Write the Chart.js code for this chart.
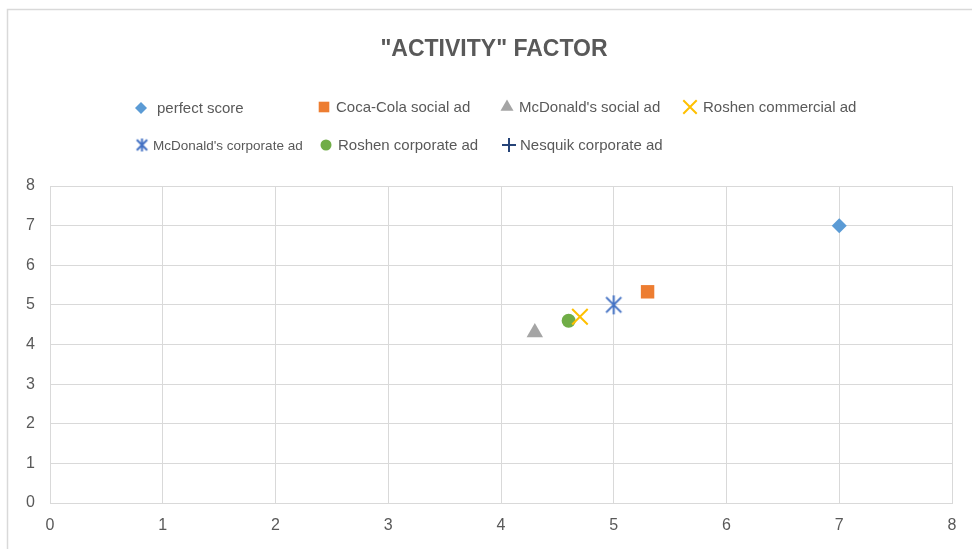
<!DOCTYPE html>
<html>
<head>
<meta charset="utf-8">
<script src="https://cdn.jsdelivr.net/npm/chart.js@4/dist/chart.umd.min.js"></script>
<style>
  html, body { margin: 0; padding: 0; background: #ffffff; }
  #wrap { position: relative; width: 972px; height: 549px; }
</style>
</head>
<body>
<div id="wrap"><canvas id="c" width="972" height="549"></canvas></div>
<script>
// ---- data ----
const chartTitle = '"ACTIVITY" FACTOR';
const seriesNames = [
  "perfect score",
  "Coca-Cola social ad",
  "McDonald's social ad",
  "Roshen commercial ad",
  "McDonald's corporate ad",
  "Roshen corporate ad",
  "Nesquik corporate ad"
];
const perfectScore      = [{ x: 7,   y: 7 }];
const cocaColaSocial    = [{ x: 5.3, y: 5.33 }];
const mcdonaldsSocial   = [{ x: 4.3, y: 4.3 }];
const roshenCommercial  = [{ x: 4.7, y: 4.7 }];
const mcdonaldsCorporate= [{ x: 5,   y: 5 }];
const roshenCorporate   = [{ x: 4.6, y: 4.6 }];
const nesquikCorporate  = [];   // no visible point in the reference
const xTicks = [0, 1, 2, 3, 4, 5, 6, 7, 8];
const yTicks = [0, 1, 2, 3, 4, 5, 6, 7, 8];

// ---- styles ----
const colors = ['#5B9BD5', '#ED7D31', '#A5A5A5', '#FFC000', '#4472C4', '#70AD47', '#264478'];

function makeAsterisk(size, color, lw) {
  const c = document.createElement('canvas');
  c.width = size; c.height = size;
  const g = c.getContext('2d');
  const m = size / 2, r = size / 2 - 1;
  g.strokeStyle = color; g.lineWidth = lw; g.lineCap = 'butt';
  g.beginPath();
  g.moveTo(m, m - r); g.lineTo(m, m + r);
  const d = r * 0.8;
  g.moveTo(m - d, m - d); g.lineTo(m + d, m + d);
  g.moveTo(m - d, m + d); g.lineTo(m + d, m - d);
  g.stroke();
  return c;
}
const starBig = makeAsterisk(21, colors[4], 2);
const starSmall = makeAsterisk(15, colors[4], 2);

const seriesData = [perfectScore, cocaColaSocial, mcdonaldsSocial, roshenCommercial,
                    mcdonaldsCorporate, roshenCorporate, nesquikCorporate];
const styles = [
  { ps: 'rectRot',  r: 7.5, lr: 6 },
  { ps: 'rect',     r: 9.5, lr: 7.5 },
  { ps: 'triangle', r: 9.5, lr: 7.5 },
  { ps: 'crossRot', r: 11,  lr: 9.5, line: true },
  { ps: starBig,    r: 10,  lr: 7, legendImg: starSmall },
  { ps: 'circle',   r: 7,   lr: 5.5 },
  { ps: 'cross',    r: 8,   lr: 7, line: true }
];

const datasets = seriesNames.map((name, i) => ({
  label: name,
  data: seriesData[i],
  pointStyle: styles[i].ps,
  pointRadius: styles[i].r,
  pointHoverRadius: styles[i].r,
  backgroundColor: colors[i],
  borderColor: colors[i],
  borderWidth: styles[i].line ? 2 : 0,
  showLine: false
}));

const decorPlugin = {
  id: 'decor',
  beforeDraw(chart) {
    const ctx = chart.ctx;
    ctx.save();
    ctx.fillStyle = '#ffffff';
    ctx.fillRect(0, 0, chart.width, chart.height);
    ctx.strokeStyle = '#d9d9d9';
    ctx.lineWidth = 1.5;
    ctx.strokeRect(7.5, 9.5, 1200, 1200);
    ctx.restore();
  },
  afterDraw(chart) {
    const ctx = chart.ctx;
    ctx.save();
    // title
    ctx.fillStyle = '#595959';
    ctx.font = 'bold 23px "Liberation Sans", Arial, sans-serif';
    ctx.textAlign = 'center';
    ctx.textBaseline = 'middle';
    ctx.fillText(chartTitle, 494, 50);
    // legend
    const pos = [
      { mx: 141, tx: 157, y: 108, f: 15 },
      { mx: 324, tx: 336, y: 107, f: 15 },
      { mx: 507, tx: 519, y: 107, f: 15 },
      { mx: 690, tx: 703, y: 107, f: 15 },
      { mx: 142, tx: 153, y: 145, f: 13.5 },
      { mx: 326, tx: 338, y: 145, f: 15 },
      { mx: 509, tx: 520, y: 145, f: 15 }
    ];
    ctx.textAlign = 'left';
    chart.data.datasets.forEach((ds, i) => {
      const p = pos[i];
      const st = styles[i];
      ctx.save();
      ctx.fillStyle = ds.backgroundColor;
      ctx.strokeStyle = ds.borderColor;
      ctx.lineWidth = st.line ? 2 : 1;
      const pstyle = st.legendImg || st.ps;
      Chart.helpers.drawPoint(ctx, { pointStyle: pstyle, rotation: 0, radius: st.lr, borderWidth: st.line ? 2 : 0 }, p.mx, p.y);
      ctx.restore();
      ctx.fillStyle = '#595959';
      ctx.font = p.f + 'px "Liberation Sans", Arial, sans-serif';
      ctx.fillText(ds.label, p.tx, p.y + 1);
    });
    ctx.restore();
  }
};

new Chart(document.getElementById('c'), {
  type: 'scatter',
  data: { datasets },
  options: {
    responsive: false,
    animation: false,
    events: [],
    layout: { padding: { left: 0, right: 20, top: 186, bottom: 6 } },
    plugins: { legend: { display: false }, title: { display: false }, tooltip: { enabled: false } },
    scales: {
      x: {
        type: 'linear', min: 0, max: 8,
        afterBuildTicks(s) { s.ticks = xTicks.map(v => ({ value: v })); },
        afterFit(s) { s.height = 40; },
        grid: { color: '#d9d9d9', lineWidth: 1, drawTicks: false },
        border: { color: '#d9d9d9', width: 1 },
        ticks: { color: '#595959', font: { size: 16, family: '"Liberation Sans", Arial, sans-serif' }, padding: 13, maxRotation: 0 }
      },
      y: {
        type: 'linear', min: 0, max: 8,
        afterBuildTicks(s) { s.ticks = yTicks.map(v => ({ value: v })); },
        afterFit(s) { s.width = 50; },
        grid: { color: '#d9d9d9', lineWidth: 1, drawTicks: false },
        border: { color: '#d9d9d9', width: 1 },
        ticks: { color: '#595959', font: { size: 16, family: '"Liberation Sans", Arial, sans-serif' }, padding: 15 }
      }
    }
  },
  plugins: [decorPlugin]
});
</script>
</body>
</html>
